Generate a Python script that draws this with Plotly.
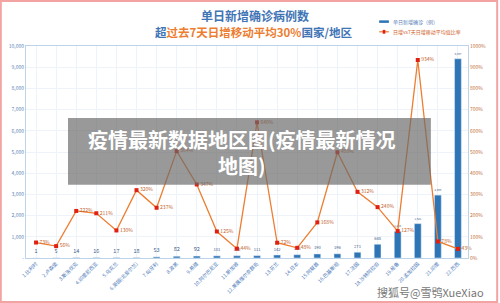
import plotly.graph_objects as go

categories = ["1.比利时", "2.卢森堡", "3.斯洛伐克", "4.印度尼西亚", "5.乌克兰", "6.英国(北爱尔兰)",
              "7.匈牙利", "8.波黑", "9.希腊", "10.阿尔巴尼亚", "11.新加坡", "12.美属维尔京群岛",
              "13.芬兰", "14.日本", "15.阿联酋", "16.巴基斯坦", "17.法国", "18.沙特阿拉伯",
              "19.秘鲁", "20.孟加拉国", "21.印度", "22.巴西"]
daily_new = [1, 5, 14, 16, 17, 18, 53, 82, 92, 101, 108, 111, 142, 155, 190, 196, 271, 648, 1255, 1621, 2966, 9397]
ratio_pct = [73, 56, 222, 211, 130, 320, 237, 504, 347, 125, 44, 640, 72, 48, 168, 499, 312, 240, 127, 934, 78, 43]

left_ticks = list(range(0, 10001, 1000))
left_ticktext = ["-"] + [f"{v:,}" for v in left_ticks[1:]]
right_ticks = list(range(0, 1001, 100))

CJK = "Noto Sans CJK SC"
BLUE = "#2E75B6"
ORANGE = "#ED7D31"

fig = go.Figure()
fig.add_trace(go.Bar(
    x=categories, y=daily_new, name="单日新增确诊（例）",
    marker_color=BLUE, text=[f"{v:,}" for v in daily_new], textposition="outside",
    textfont=dict(size=5.5, color="#3a5a8a", family=CJK), cliponaxis=False,
))
fig.add_trace(go.Scatter(
    x=categories, y=ratio_pct, yaxis="y2", name="日增vs7天日增移动平均值比率",
    mode="lines+markers+text", line=dict(color=ORANGE, width=1.3),
    marker=dict(color="#E02010", size=4, symbol="square"),
    text=[f"{v}%" for v in ratio_pct], textposition="middle right",
    textfont=dict(size=5, color="#C0602A", family=CJK), cliponaxis=False,
))

fig.update_layout(
    width=500, height=303,
    margin=dict(l=26, r=32, t=46, b=45, autoexpand=False),
    paper_bgcolor="white", plot_bgcolor="white",
    bargap=0.66,
    showlegend=False,
    font=dict(family=CJK),
    xaxis=dict(
        range=[-0.5, len(categories) - 0.5], autorange=False,
        tickangle=-45, tickfont=dict(size=5, color="#4a78b8", family=CJK),
        showgrid=True, gridcolor="#EEF3F9", gridwidth=1, automargin=False,
        showline=True, linecolor="#BDD3EA", mirror=True, ticks="",
    ),
    yaxis=dict(
        range=[0, 10000], tickvals=left_ticks, ticktext=left_ticktext, automargin=False,
        tickfont=dict(size=5, color="#5b7fb5"), showgrid=True, gridcolor="#EEF3F9",
        showline=True, linecolor="#BDD3EA", zeroline=False,
    ),
    yaxis2=dict(
        range=[0, 1000], tickvals=right_ticks, ticktext=[f"{v}%" for v in right_ticks],
        tickfont=dict(size=5, color="#C0703A"), overlaying="y", side="right", automargin=False,
        showgrid=False, showline=True, linecolor="#BDD3EA", zeroline=False,
    ),
)

# Title (two lines, coloured runs)
fig.add_annotation(
    xref="paper", yref="paper", x=0.5, y=1, xanchor="center", yanchor="middle",
    xshift=8, yshift=31,
    text="<b>单日新增确诊病例数</b>", showarrow=False,
    font=dict(size=12, color="#3F74B5", family=CJK),
)
fig.add_annotation(
    xref="paper", yref="paper", x=0.5, y=1, xanchor="center", yanchor="middle",
    xshift=6, yshift=14,
    text="<b><span style='color:#3F74B5'>超</span><span style='color:#ED7D31'>过去7天日增移动平均30%</span><span style='color:#3F74B5'>国家/地区</span></b>",
    showarrow=False, font=dict(size=11.5, family=CJK),
)

# Legend (manual)
fig.add_shape(type="rect", xref="paper", yref="paper", x0=0.799, x1=0.821, y0=1.109, y1=1.121,
              fillcolor=BLUE, line=dict(width=0))
fig.add_annotation(xref="paper", yref="paper", x=0.826, y=1.115, xanchor="left", yanchor="middle",
                   text="单日新增确诊（例）", showarrow=False, font=dict(size=5, color="#5b7fb5", family=CJK))
fig.add_shape(type="line", xref="paper", yref="paper", x0=0.799, x1=0.821, y0=1.067, y1=1.067,
              line=dict(color=ORANGE, width=1.2))
fig.add_shape(type="rect", xref="paper", yref="paper", x0=0.807, x1=0.813, y0=1.058, y1=1.076,
              fillcolor="#E02010", line=dict(width=0))
fig.add_annotation(xref="paper", yref="paper", x=0.826, y=1.067, xanchor="left", yanchor="middle",
                   text="日增vs7天日增移动平均值比率", showarrow=False, font=dict(size=5, color="#D0602A", family=CJK))

# Outer pink border
fig.add_shape(type="rect", xref="paper", yref="paper", x0=-0.057, x1=1.066, y0=-0.207, y1=1.212,
              line=dict(color="#F4A3A3", width=2), fillcolor="rgba(0,0,0,0)", layer="above")

# Overlay banner
fig.add_shape(type="rect", xref="paper", yref="paper", x0=0.095, x1=0.916, y0=0.345, y1=0.66,
              fillcolor="rgba(105,105,105,0.68)", line=dict(width=0), layer="above")
fig.add_annotation(xref="paper", yref="paper", x=0.488, y=0.5, xanchor="center", yanchor="middle",
                   text="<b>疫情最新数据地区图(疫情最新情况<br>地图)</b>", showarrow=False,
                   font=dict(size=20, color="white", family=CJK), align="center")

# Watermark
fig.add_annotation(xref="paper", yref="paper", x=1.04, y=-0.16, xanchor="right", yanchor="middle",
                   text="搜狐号@雪鸮XueXiao", showarrow=False,
                   font=dict(size=11, color="#777777", family=CJK))

fig.write_html("out.html")
